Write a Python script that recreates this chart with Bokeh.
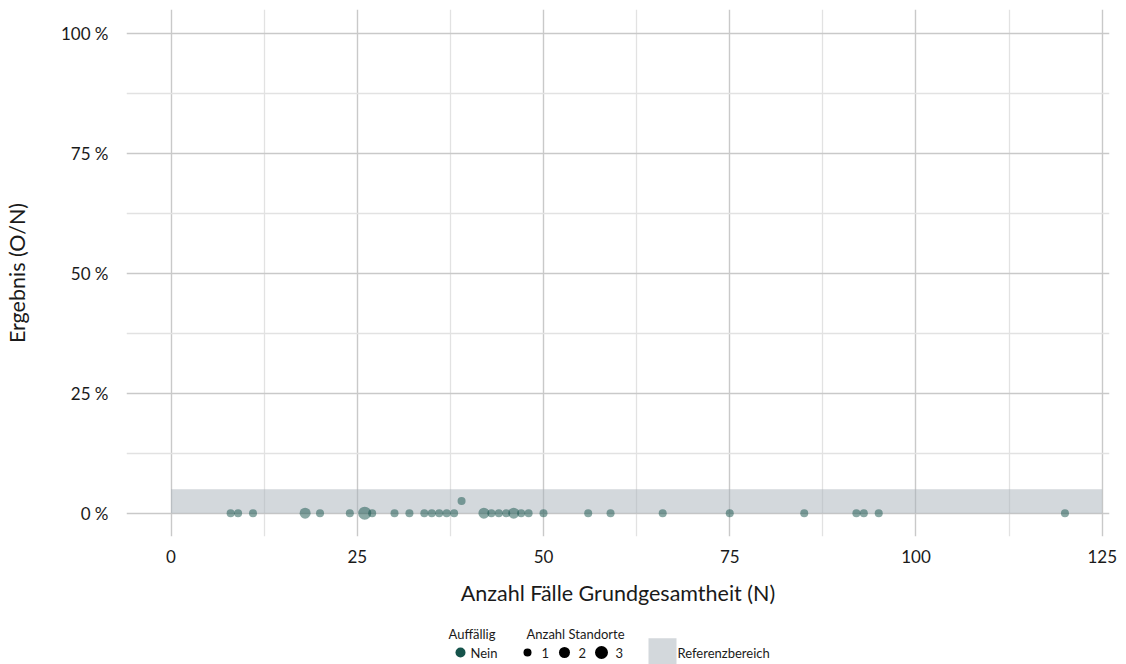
from bokeh.plotting import figure
from bokeh.models import Range1d, FixedTicker, ColumnDataSource
from bokeh.layouts import column
from bokeh.embed import file_html
from bokeh.resources import INLINE
from bokeh.core.properties import value

# ---------------- data ----------------
cases_n = [8, 9, 11, 18, 20, 24, 26, 27, 30, 32, 34, 35, 36, 37, 38, 39,
           42, 43, 44, 45, 46, 47, 48, 50, 56, 59, 66, 75, 85, 92, 93, 95, 120]
result_pct = [0, 0, 0, 0, 0, 0, 0, 0, 0, 0, 0, 0, 0, 0, 0, 2.56,
              0, 0, 0, 0, 0, 0, 0, 0, 0, 0, 0, 0, 0, 0, 0, 0, 0]
site_count = [1, 1, 1, 2, 1, 1, 3, 1, 1, 1, 1, 1, 1, 1, 1, 1,
              2, 1, 1, 1, 2, 1, 1, 1, 1, 1, 1, 1, 1, 1, 1, 1, 1]
ref_range = [0, 5]            # Referenzbereich in %
x_limits = [0, 125]
x_ticks = [0, 25, 50, 75, 100, 125]
x_minor = [12.5, 37.5, 62.5, 87.5, 112.5]
y_ticks = [0, 25, 50, 75, 100]
y_minor = [12.5, 37.5, 62.5, 87.5]
y_tick_labels = ["0 %", "25 %", "50 %", "75 %", "100 %"]
size_levels = [1, 2, 3]
legend_auff = ["Nein"]

# ---------------- style ----------------
FONT = "Lato"
POINT_COLOR = "#15534B"
BAND_COLOR = "#a7b1b9"
TEXT_COLOR = "#1a1a1a"
size_px = {1: 8, 2: 11, 3: 13}

p = figure(width=1126, height=620, output_backend="svg", toolbar_location=None,
           x_range=Range1d(-5.98, 125.98), y_range=Range1d(-4.85, 104.94),
           min_border_left=123, min_border_right=17, min_border_top=9,
           min_border_bottom=84, frame_align=False)
p.outline_line_color = None
p.background_fill_color = "white"
p.border_fill_color = "white"

p.xaxis.ticker = FixedTicker(ticks=x_ticks, minor_ticks=x_minor)
p.yaxis.ticker = FixedTicker(ticks=y_ticks, minor_ticks=y_minor)
p.yaxis.major_label_overrides = {t: l for t, l in zip(y_ticks, y_tick_labels)}

for ax in (p.xaxis, p.yaxis):
    ax.axis_line_color = None
    ax.major_tick_line_color = None
    ax.minor_tick_line_color = None
    ax.major_label_text_font = FONT
    ax.major_label_text_font_size = "17px"
    ax.major_label_text_color = TEXT_COLOR
    ax.axis_label_text_font = FONT
    ax.axis_label_text_font_size = "21.5px"
    ax.axis_label_text_font_style = "normal"
    ax.axis_label_text_color = TEXT_COLOR

p.xaxis.axis_label = "Anzahl Fälle Grundgesamtheit (N)"
p.yaxis.axis_label = "Ergebnis (O/N)"
p.xaxis.major_label_standoff = 7
p.yaxis.major_label_standoff = 12
p.xaxis.axis_label_standoff = 14
p.yaxis.axis_label_standoff = 28

for g in (p.xgrid, p.ygrid):
    g.grid_line_color = "#c9c9c9"
    g.grid_line_width = 1.4
    g.minor_grid_line_color = "#e2e2e2"
    g.minor_grid_line_width = 1.3

# reference band
p.quad(left=[x_limits[0]], right=[x_limits[1]], bottom=[ref_range[0]], top=[ref_range[1]],
       fill_color=BAND_COLOR, fill_alpha=0.5, line_color=None)

src = ColumnDataSource(dict(x=cases_n, y=result_pct,
                            s=[size_px[c] for c in site_count]))
p.scatter(x="x", y="y", size="s", source=src, fill_color=POINT_COLOR,
          fill_alpha=0.5, line_color=None)

# ---------------- legend strip (coordinates = pixels of the strip) ----------------
lg = figure(width=1126, height=44, output_backend="svg", toolbar_location=None,
            x_range=Range1d(0, 1126), y_range=Range1d(0, 44), min_border=0,
            frame_align=False)
lg.axis.visible = False
lg.grid.visible = False
lg.outline_line_color = None
lg.border_fill_color = "white"

fs = "13px"
title_y, item_y = 31, 12
lg.text(x=[448, 526], y=[title_y] * 2, text=["Auffällig", "Anzahl Standorte"],
        text_font=value(FONT), text_font_size=fs, text_baseline="middle",
        text_align="left", text_color=TEXT_COLOR)
lg.scatter(x=[460], y=[item_y], size=10, fill_color=POINT_COLOR, line_color=None)
lg.text(x=[470], y=[item_y], text=legend_auff, text_font=value(FONT), text_font_size=fs,
        text_baseline="middle", text_align="left", text_color=TEXT_COLOR)
lg.scatter(x=[527, 564, 601], y=[item_y] * 3, size=[size_px[s] for s in size_levels],
           fill_color="black", line_color=None)
lg.text(x=[541, 578, 615], y=[item_y] * 3, text=[str(s) for s in size_levels],
        text_font=value(FONT), text_font_size=fs, text_baseline="middle",
        text_align="left", text_color=TEXT_COLOR)
lg.quad(left=[648], right=[676], bottom=[0], top=[26.3], fill_color=BAND_COLOR,
        fill_alpha=0.5, line_color=None)
lg.text(x=[677], y=[item_y], text=["Referenzbereich"], text_font=value(FONT),
        text_font_size=fs, text_baseline="middle", text_align="left",
        text_color=TEXT_COLOR)

layout = column(p, lg, spacing=0)
open("out.html", "w").write(file_html(layout, INLINE))
